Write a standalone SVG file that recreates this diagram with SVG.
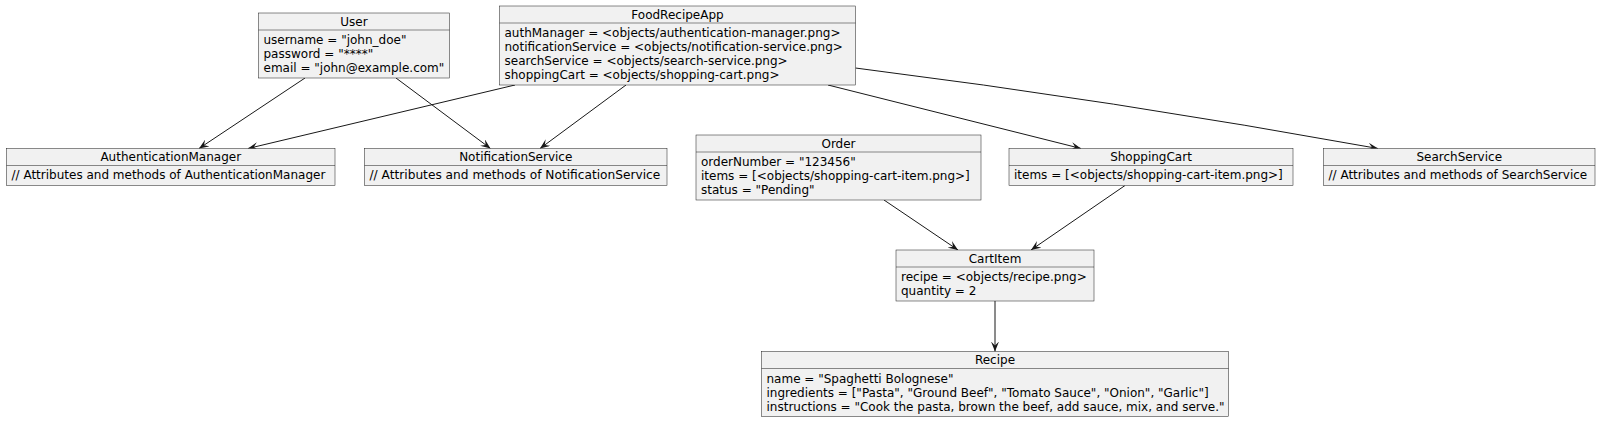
<svg xmlns="http://www.w3.org/2000/svg" width="1600" height="421" viewBox="0 0 1600 421">
<style>
.box{fill:#F1F1F1;stroke:#181818;stroke-width:0.5}
.sep{stroke:#181818;stroke-width:0.5}
text{font-family:"DejaVu Sans",sans-serif;font-size:12px;fill:#000}
.t{text-anchor:middle}
.edge{fill:none;stroke:#181818;stroke-width:1;marker-end:url(#arr)}
</style>
<defs>
<marker id="arr" markerUnits="userSpaceOnUse" viewBox="0 0 10 8" markerWidth="10" markerHeight="8" refX="10" refY="4" orient="auto">
<polygon points="0,0 10,4 0,8 4,4" fill="#181818"/>
</marker>
</defs>
<rect width="1600" height="421" fill="#FFFFFF"/>
<g id="connectors">
<path class="edge" d="M305,78 L199,148.5"/>
<path class="edge" d="M396,78 L490.5,148.5"/>
<path class="edge" d="M515,85 L248,148.5"/>
<path class="edge" d="M626,85 L540,148.5"/>
<path class="edge" d="M828,85 L1081,148.5"/>
<path class="edge" d="M855.5,68 Q1110,100 1378,148.5"/>
<path class="edge" d="M884,200 L958,250"/>
<path class="edge" d="M1125,185.5 L1031,250"/>
<path class="edge" d="M995,301 L995,351.5"/>
</g>
<g id="User">
<rect class="box" x="258.5" y="13" width="191" height="65"/>
<line class="sep" x1="258.5" y1="30" x2="449.5" y2="30"/>
<text class="t" x="354" y="25.5">User</text>
<text x="263.5" y="43.5">username = "john_doe"</text>
<text x="263.5" y="57.5">password = "****"</text>
<text x="263.5" y="71.5">email = "john@example.com"</text>
</g>
<g id="FoodRecipeApp">
<rect class="box" x="499.5" y="6" width="356" height="79"/>
<line class="sep" x1="499.5" y1="23" x2="855.5" y2="23"/>
<text class="t" x="677.5" y="18.5">FoodRecipeApp</text>
<text x="504.5" y="36.5">authManager = &lt;objects/authentication-manager.png&gt;</text>
<text x="504.5" y="50.5">notificationService = &lt;objects/notification-service.png&gt;</text>
<text x="504.5" y="64.5">searchService = &lt;objects/search-service.png&gt;</text>
<text x="504.5" y="78.5">shoppingCart = &lt;objects/shopping-cart.png&gt;</text>
</g>
<g id="AuthenticationManager">
<rect class="box" x="6.5" y="148.5" width="328.5" height="37"/>
<line class="sep" x1="6.5" y1="165.5" x2="335" y2="165.5"/>
<text class="t" x="170.75" y="161">AuthenticationManager</text>
<text x="11.5" y="179">// Attributes and methods of AuthenticationManager</text>
</g>
<g id="NotificationService">
<rect class="box" x="364.5" y="148.5" width="302.5" height="37"/>
<line class="sep" x1="364.5" y1="165.5" x2="667" y2="165.5"/>
<text class="t" x="515.75" y="161">NotificationService</text>
<text x="369.5" y="179" style="font-size:12.2px">// Attributes and methods of NotificationService</text>
</g>
<g id="Order">
<rect class="box" x="696" y="135" width="285" height="65"/>
<line class="sep" x1="696" y1="152" x2="981" y2="152"/>
<text class="t" x="838.5" y="147.5">Order</text>
<text x="701" y="165.5">orderNumber = "123456"</text>
<text x="701" y="179.5">items = [&lt;objects/shopping-cart-item.png&gt;]</text>
<text x="701" y="193.5">status = "Pending"</text>
</g>
<g id="ShoppingCart">
<rect class="box" x="1009" y="148.5" width="284" height="37"/>
<line class="sep" x1="1009" y1="165.5" x2="1293" y2="165.5"/>
<text class="t" x="1151" y="161">ShoppingCart</text>
<text x="1014" y="179">items = [&lt;objects/shopping-cart-item.png&gt;]</text>
</g>
<g id="SearchService">
<rect class="box" x="1323.5" y="148.5" width="271.5" height="37"/>
<line class="sep" x1="1323.5" y1="165.5" x2="1595" y2="165.5"/>
<text class="t" x="1459.25" y="161">SearchService</text>
<text x="1328.5" y="179">// Attributes and methods of SearchService</text>
</g>
<g id="CartItem">
<rect class="box" x="896" y="250" width="198" height="51"/>
<line class="sep" x1="896" y1="267" x2="1094" y2="267"/>
<text class="t" x="995" y="262.5">CartItem</text>
<text x="901" y="280.5">recipe = &lt;objects/recipe.png&gt;</text>
<text x="901" y="294.5">quantity = 2</text>
</g>
<g id="Recipe">
<rect class="box" x="761.5" y="351.5" width="467" height="65"/>
<line class="sep" x1="761.5" y1="368.5" x2="1228.5" y2="368.5"/>
<text class="t" x="995" y="364">Recipe</text>
<text x="766.5" y="382.5">name = "Spaghetti Bolognese"</text>
<text x="766.5" y="396.5">ingredients = ["Pasta", "Ground Beef", "Tomato Sauce", "Onion", "Garlic"]</text>
<text x="766.5" y="410.5">instructions = "Cook the pasta, brown the beef, add sauce, mix, and serve."</text>
</g>
</svg>
